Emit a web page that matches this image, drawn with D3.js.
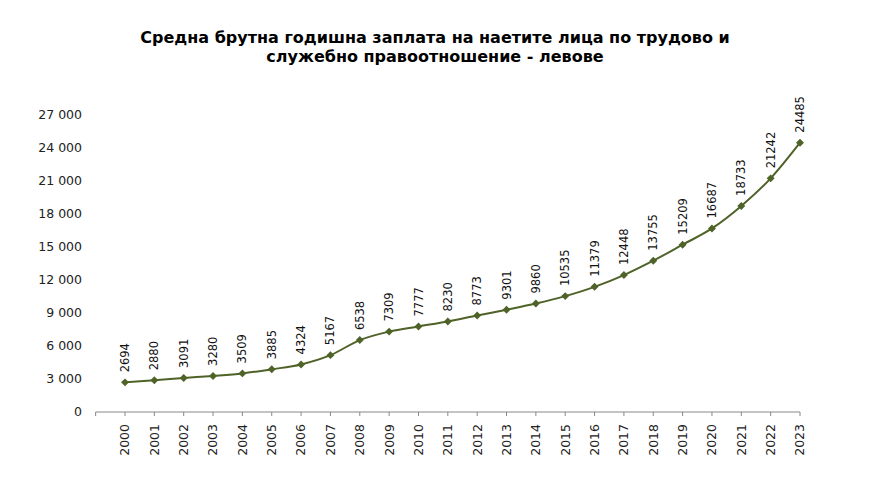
<!DOCTYPE html>
<html><head><meta charset="utf-8">
<script src="https://cdn.jsdelivr.net/npm/d3@7"></script>
<style>body{margin:0;background:#fff;}svg{display:block;}</style>
</head><body>
<svg id="c" width="870" height="489"></svg>
<script>
const years = ["2000","2001","2002","2003","2004","2005","2006","2007","2008","2009","2010","2011","2012","2013","2014","2015","2016","2017","2018","2019","2020","2021","2022","2023"];
const wages = [2694,2880,3091,3280,3509,3885,4324,5167,6538,7309,7777,8230,8773,9301,9860,10535,11379,12448,13755,15209,16687,18733,21242,24485];
const yTicks = [0,3000,6000,9000,12000,15000,18000,21000,24000,27000];
const titleLines = ["Средна брутна годишна заплата на наетите лица по трудово и","служебно правоотношение - левове"];

const svg = d3.select("#c");
const font = "'DejaVu Sans', Verdana, sans-serif";
const color = "#4f6228";

const x = d3.scalePoint().domain(years).range([125, 800]);
const y = d3.scaleLinear().domain([0, 27000]).range([412, 115]);

// title
svg.append("text").attr("x", 435).attr("y", 43).attr("text-anchor","middle")
  .attr("font-family", font).attr("font-weight","bold").attr("font-size","16px").attr("fill","#000")
  .selectAll("tspan").data(titleLines).join("tspan")
  .attr("x", 435).attr("dy", (d,i)=> i===0?0:19).text(d=>d);

// y axis labels
const fmt = v => d3.format(",")(v).replace(/,/g, " ");
svg.append("g").selectAll("text").data(yTicks).join("text")
  .attr("x", 82).attr("y", d=>y(d)).attr("dy","0.35em").attr("text-anchor","end")
  .attr("font-family", font).attr("font-size","12.5px").attr("fill","#222")
  .text(fmt);

// x axis
const step = x.step();
const gx = svg.append("g").attr("transform","translate(0,412)");
gx.append("line").attr("x1", x(years[0]) - step).attr("x2", x(years[years.length-1]))
  .attr("stroke","#888").attr("stroke-width",1);
gx.selectAll("line.t").data([x(years[0]) - step].concat(years.map(d=>x(d)))).join("line")
  .attr("class","t").attr("x1",d=>d).attr("x2",d=>d).attr("y1",0).attr("y2",4)
  .attr("stroke","#888");
gx.selectAll("text").data(years).join("text")
  .attr("transform", d=>`translate(${x(d)},12) rotate(-90)`)
  .attr("text-anchor","end").attr("dy","0.35em")
  .attr("font-family", font).attr("font-size","12.5px").attr("fill","#222")
  .text(d=>d);

// line
const line = d3.line().x((d,i)=>x(years[i])).y(d=>y(d)).curve(d3.curveMonotoneX);
svg.append("path").datum(wages).attr("d", line).attr("fill","none")
  .attr("stroke", color).attr("stroke-width", 2);

// markers
svg.append("g").selectAll("path").data(wages).join("path")
  .attr("d", d3.symbol().type(d3.symbolDiamond2).size(40))
  .attr("transform", (d,i)=>`translate(${x(years[i])},${y(d)})`)
  .attr("fill", color);

// data labels
svg.append("g").selectAll("text").data(wages).join("text")
  .attr("transform", (d,i)=>`translate(${x(years[i])},${y(d)-10}) rotate(-90)`)
  .attr("text-anchor","start").attr("dy","0.35em")
  .attr("font-family", font).attr("font-size","11.5px").attr("fill","#111")
  .text(d=>d);
</script>
</body></html>
